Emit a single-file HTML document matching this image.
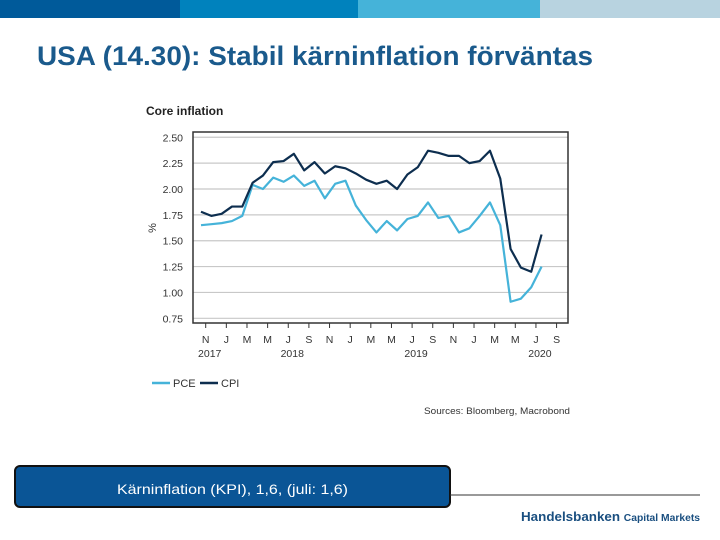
<!DOCTYPE html>
<html><head><meta charset="utf-8"><style>
html,body{margin:0;padding:0;background:#fff;}
svg{display:block;font-family:"Liberation Sans",Arial,sans-serif;}
</style></head><body>
<svg id="root" width="720" height="540" viewBox="0 0 720 540">
<rect x="0" y="0" width="180" height="18" fill="#005a9a"/>
<rect x="180" y="0" width="178" height="18" fill="#0082bd"/>
<rect x="358" y="0" width="182" height="18" fill="#45b3d9"/>
<rect x="540" y="0" width="180" height="18" fill="#b8d3e0"/>
<text x="37" y="65" font-size="27" font-weight="bold" fill="#1a5a8c" textLength="556" lengthAdjust="spacingAndGlyphs">USA (14.30): Stabil kärninflation förväntas</text>

<text x="146" y="115" font-size="12" font-weight="bold" fill="#222">Core inflation</text>
<g id="chart"></g>
<text x="156" y="228" font-size="11" fill="#333" transform="rotate(-90 156 228)" text-anchor="middle">%</text>

<line x1="152" y1="383" x2="170" y2="383" stroke="#45b3d9" stroke-width="2.5"/>
<text x="173" y="387" font-size="11" fill="#333">PCE</text>
<line x1="200" y1="383" x2="218" y2="383" stroke="#0d2e4f" stroke-width="2.5"/>
<text x="221" y="387" font-size="11" fill="#333">CPI</text>
<text x="424" y="414" font-size="9.5" fill="#333" textLength="146" lengthAdjust="spacingAndGlyphs">Sources: Bloomberg, Macrobond</text>

<rect x="15" y="466" width="435" height="41" rx="5" fill="#0a5596" stroke="#111" stroke-width="2"/>
<text x="117" y="494" font-size="14" fill="#fff" textLength="231" lengthAdjust="spacingAndGlyphs">Kärninflation (KPI), 1,6, (juli: 1,6)</text>
<line x1="450" y1="495" x2="700" y2="495" stroke="#333" stroke-width="1"/>
<text x="521" y="521" font-size="13" font-weight="bold" fill="#1a4f80" textLength="179" lengthAdjust="spacingAndGlyphs">Handelsbanken <tspan font-size="10">Capital Markets</tspan></text>
</svg>
<script>
const cpiValues=[1.78,1.74,1.76,1.83,1.83,2.06,2.13,2.26,2.27,2.34,2.18,2.26,2.15,2.22,2.20,2.15,2.09,2.05,2.08,2.00,2.14,2.21,2.37,2.35,2.32,2.32,2.25,2.27,2.37,2.10,1.42,1.24,1.20,1.56];
const pceValues=[1.65,1.66,1.67,1.69,1.74,2.04,2.00,2.11,2.07,2.13,2.03,2.08,1.91,2.05,2.08,1.84,1.70,1.58,1.69,1.60,1.71,1.74,1.87,1.72,1.74,1.58,1.62,1.74,1.87,1.65,0.91,0.94,1.05,1.25];
const yTicks=[0.75,1.00,1.25,1.50,1.75,2.00,2.25,2.50];
const monthLabels=["N","J","M","M","J","S","N","J","M","M","J","S","N","J","M","M","J","S"];
const yearLabels=[["2017",0],["2018",8],["2019",20],["2020",32]];
const NS="http://www.w3.org/2000/svg";
const g=document.getElementById('chart');
const L=193,R=568,T=132,B=323;
function y(v){return 318.3-(v-0.75)/0.25*25.86;}
function xData(i){return 201+i*10.32;}
function xTick(k){return 205.7+k*2*10.32;}
function mk(tag,attrs){const e=document.createElementNS(NS,tag);for(const k in attrs)e.setAttribute(k,attrs[k]);g.appendChild(e);return e;}
yTicks.forEach(v=>{
 const l=mk('line',{x1:L,x2:R,y1:y(v),y2:y(v),stroke:'#c8c8c8','stroke-width':1.2});
 
 
 const t=mk('text',{x:183,y:y(v)+4,'font-size':10.5,'text-anchor':'end',fill:'#333'});
 t.textContent=v.toFixed(2);
 
 
});
const fr=mk('rect',{x:L,y:T,width:R-L,height:B-T,fill:'none',stroke:'#333','stroke-width':1.5});


monthLabels.forEach((m,k)=>{
 const tk=mk('line',{x1:xTick(k),x2:xTick(k),y1:B,y2:B+5,stroke:'#333'});
 
 
 const t=mk('text',{x:xTick(k),y:343,'font-size':10.5,'text-anchor':'middle',fill:'#333'});
 t.textContent=m;
 
 
});
yearLabels.forEach(([yr,k])=>{
 const t=mk('text',{x:xTick(k/2)+4,y:357,'font-size':10.5,'text-anchor':'middle',fill:'#333'});
 t.textContent=yr;
 
 
});
function line(vals,color,name){
 const p=mk('polyline',{points:vals.map((v,i)=>xData(i)+','+y(v)).join(' '),fill:'none',stroke:color,'stroke-width':2.2,'stroke-linejoin':'round'});
 
 
}
line(pceValues,'#45b3d9','pce-line');
line(cpiValues,'#0d2e4f','cpi-line');
</script>
</body></html>
